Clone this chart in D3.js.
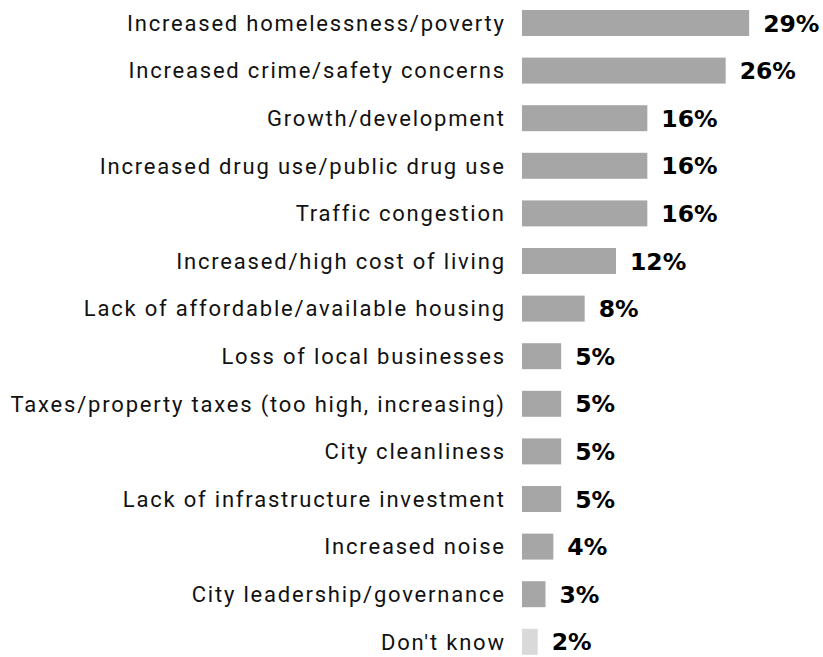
<!DOCTYPE html>
<html>
<head>
<meta charset="utf-8">
<script src="https://cdn.jsdelivr.net/npm/d3@7"></script>
<style>
  html, body { margin: 0; padding: 0; background: #fff; }
  svg text { font-family: Roboto, "Noto Sans", sans-serif; }
</style>
</head>
<body>
<svg id="chart" width="823" height="657"></svg>
<script>
const categories = [
  "Increased homelessness/poverty",
  "Increased crime/safety concerns",
  "Growth/development",
  "Increased drug use/public drug use",
  "Traffic congestion",
  "Increased/high cost of living",
  "Lack of affordable/available housing",
  "Loss of local businesses",
  "Taxes/property taxes (too high, increasing)",
  "City cleanliness",
  "Lack of infrastructure investment",
  "Increased noise",
  "City leadership/governance",
  "Don't know"
];
const values = [29, 26, 16, 16, 16, 12, 8, 5, 5, 5, 5, 4, 3, 2];
const valueLabels = ["29%", "26%", "16%", "16%", "16%", "12%", "8%", "5%", "5%", "5%", "5%", "4%", "3%", "2%"];

const svg = d3.select("#chart");

const x = d3.scaleLinear().domain([0, 30]).range([522, 757]);
const y = d3.scaleBand()
  .domain(categories)
  .range([-0.8, 665.6])
  .paddingInner(0.454)
  .paddingOuter(0.227);

const labelSpacing = 1.8;

const rows = svg.selectAll("g.row")
  .data(categories.map((c, i) => ({ c, v: values[i], lab: valueLabels[i] })))
  .join("g")
  .attr("class", "row");

rows.append("rect")
  .attr("x", x(0))
  .attr("y", d => y(d.c))
  .attr("width", d => x(d.v) - x(0))
  .attr("height", y.bandwidth())
  .attr("fill", d => d.c === "Don't know" ? "#d9d9d9" : "#a6a6a6");

// category names, right-aligned against the bars (trailing letter-spacing compensated)
rows.append("text")
  .attr("x", x(0) - 18 + labelSpacing)
  .attr("y", d => y(d.c) + y.bandwidth() / 2)
  .attr("dy", "0.35em")
  .attr("text-anchor", "end")
  .attr("font-size", 22)
  .attr("letter-spacing", labelSpacing)
  .attr("fill", "#111")
  .text(d => d.c);

// percentage values at the end of each bar
rows.append("text")
  .attr("x", d => x(d.v) + 14)
  .attr("y", d => y(d.c) + y.bandwidth() / 2)
  .attr("dy", "0.37em")
  .attr("font-size", 23.5)
  .attr("font-weight", "bold")
  .style("font-family", "'DejaVu Sans', sans-serif")
  .attr("fill", "#000")
  .text(d => d.lab);
</script>
</body>
</html>
